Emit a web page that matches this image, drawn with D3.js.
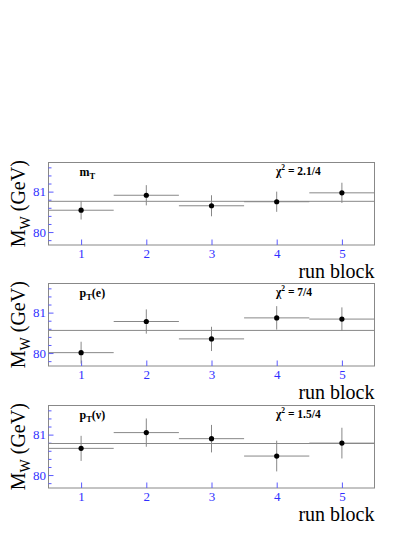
<!DOCTYPE html>
<html><head><meta charset="utf-8">
<script src="https://cdn.jsdelivr.net/npm/d3@7"></script>
<style>body{margin:0;background:#fff}svg{display:block}
svg text{font-family:"Liberation Serif","Times New Roman",Times,serif}</style>
</head><body>
<script>
// ---- data ----
const blocks = [1, 2, 3, 4, 5];
const xTickLabels = ["1", "2", "3", "4", "5"];
const yTickValues = [80, 81];
const yTickLabels = ["80", "81"];

const mtValues = [80.54, 80.91, 80.65, 80.75, 80.97];
const mtErrors = [0.23, 0.25, 0.26, 0.25, 0.25];
const mtFit = 80.76;

const pteValues = [80.01, 80.78, 80.35, 80.87, 80.84];
const pteErrors = [0.27, 0.30, 0.30, 0.29, 0.29];
const pteFit = 80.56;

const ptnValues = [80.66, 81.05, 80.90, 80.47, 80.79];
const ptnErrors = [0.31, 0.35, 0.34, 0.38, 0.38];
const ptnFit = 80.78;

const panelNames = ["mT", "pTe", "pTnu"];
const chi2Labels = ["2.1/4", "7/4", "1.5/4"];

const panels = [
  {name: panelNames[0], values: mtValues, errors: mtErrors, fit: mtFit, chi: chi2Labels[0], main: "m", sub: "T", tail: ""},
  {name: panelNames[1], values: pteValues, errors: pteErrors, fit: pteFit, chi: chi2Labels[1], main: "p", sub: "T", tail: "(e)"},
  {name: panelNames[2], values: ptnValues, errors: ptnErrors, fit: ptnFit, chi: chi2Labels[2], main: "p", sub: "T", tail: "(ν)"}
];

// ---- layout ----
const W = 415, H = 537;
const tops = [162.5, 283.5, 405.5];
const ph = 82.5;
const left = 48.5, right = 374.5;
const blue = "#2f2fff", tickBlue = "#5a5aff", gray = "#888";

const svg = d3.select("body").append("svg").attr("width", W).attr("height", H);

const x = d3.scaleLinear().domain([0.5, 5.5]).range([left, right]);

panels.forEach((p, i) => {
  const top = tops[i], bottom = top + ph;
  const y = d3.scaleLinear().domain([79.68, 81.72]).range([bottom, top]);
  const g = svg.append("g");

  g.append("rect").attr("x", left).attr("y", top).attr("width", right - left).attr("height", ph)
    .attr("fill", "none").attr("stroke", gray).attr("stroke-width", 1);

  const yAx = g.append("g").attr("transform", `translate(${left},0)`)
    .call(d3.axisLeft(y).tickValues(yTickValues).tickFormat((d, k) => yTickLabels[k]).tickSizeInner(-5).tickSizeOuter(0).tickPadding(2.5));
  yAx.select(".domain").remove();
  yAx.selectAll("line").attr("stroke", tickBlue);
  yAx.selectAll("text").attr("fill", blue).attr("font-size", 13);

  const minor = d3.range(79.8, 81.71, 0.2).filter(v => Math.abs(v - 80) > 0.05 && Math.abs(v - 81) > 0.05);
  const yMin = g.append("g").attr("transform", `translate(${left},0)`)
    .call(d3.axisLeft(y).tickValues(minor).tickFormat("").tickSizeInner(-3).tickSizeOuter(0));
  yMin.select(".domain").remove();
  yMin.selectAll("line").attr("stroke", tickBlue);

  const xAx = g.append("g").attr("transform", `translate(0,${bottom})`)
    .call(d3.axisBottom(x).tickValues(blocks).tickFormat((d, k) => xTickLabels[k]).tickSizeInner(-5.5).tickSizeOuter(0).tickPadding(4));
  xAx.select(".domain").remove();
  xAx.selectAll("line").attr("stroke", tickBlue);
  xAx.selectAll("text").attr("fill", blue).attr("font-size", 13);

  yAx.attr("font-family", null); yMin.attr("font-family", null); xAx.attr("font-family", null);

  g.append("line").attr("x1", left).attr("x2", right).attr("y1", y(p.fit)).attr("y2", y(p.fit))
    .attr("stroke", gray).attr("stroke-width", 1);

  g.selectAll(".hbar").data(blocks).enter().append("line")
    .attr("x1", d => x(d - 0.5)).attr("x2", d => x(d + 0.5))
    .attr("y1", (d, k) => y(p.values[k])).attr("y2", (d, k) => y(p.values[k]))
    .attr("stroke", gray).attr("stroke-width", 1);

  g.selectAll(".ebar").data(blocks).enter().append("line")
    .attr("x1", d => x(d)).attr("x2", d => x(d))
    .attr("y1", (d, k) => y(p.values[k] - p.errors[k])).attr("y2", (d, k) => y(p.values[k] + p.errors[k]))
    .attr("stroke", gray).attr("stroke-width", 1);

  g.selectAll(".pt").data(blocks).enter().append("circle")
    .attr("cx", d => x(d)).attr("cy", (d, k) => y(p.values[k])).attr("r", 2.6).attr("fill", "#000");

  const lab = g.append("text").attr("x", 79.5).attr("y", top + 13)
    .attr("font-size", 12).attr("font-weight", "bold").attr("fill", "#000");
  lab.append("tspan").text(p.main);
  lab.append("tspan").attr("font-size", 8.5).attr("dy", 3).text(p.sub);
  lab.append("tspan").attr("dy", -3).text(p.tail);

  const chi = g.append("text").attr("x", 276).attr("y", top + 12)
    .attr("font-size", 11.5).attr("font-weight", "bold").attr("fill", "#000");
  chi.append("tspan").text("χ");
  chi.append("tspan").attr("font-size", 7.5).attr("dy", -5).text("2");
  chi.append("tspan").attr("dy", 5).text(" = " + p.chi);

  const yt = g.append("text").attr("transform", `translate(25,${top + ph / 2}) rotate(-90)`)
    .attr("text-anchor", "middle").attr("font-size", 20).attr("fill", "#000");
  yt.append("tspan").text("M");
  yt.append("tspan").attr("font-size", 14).attr("dy", 5).text("W");
  yt.append("tspan").attr("dy", -5).text(" (GeV)");

  g.append("text").attr("x", right).attr("y", bottom + 33).attr("text-anchor", "end")
    .attr("font-size", 20).attr("fill", "#000").text("run block");
});
</script>
</body></html>
